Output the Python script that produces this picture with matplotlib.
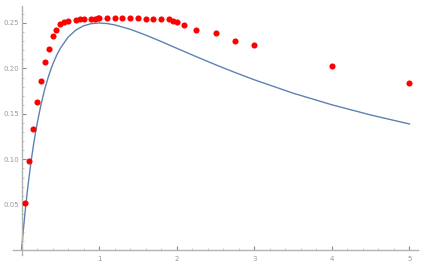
import matplotlib
matplotlib.use("Agg")
import matplotlib.pyplot as plt
from matplotlib.ticker import MultipleLocator, FixedLocator, FixedFormatter

# Scatter data
pts_x = [0.045, 0.10, 0.15, 0.20, 0.25, 0.30, 0.35, 0.40, 0.45, 0.50, 0.55, 0.60,
         0.70, 0.75, 0.80, 0.90, 0.95, 0.98, 1.00, 1.10, 1.20, 1.30, 1.40, 1.50,
         1.60, 1.70, 1.80, 1.90, 1.95, 2.00, 2.10, 2.25, 2.50, 2.75, 3.00, 4.00, 5.00]
pts_y = [0.0524, 0.098, 0.133, 0.163, 0.1865, 0.2066, 0.2213, 0.2352, 0.2426, 0.2485,
         0.2514, 0.2525, 0.2533, 0.2544, 0.2544, 0.2544, 0.2547, 0.2550, 0.2555, 0.2555,
         0.2555, 0.2555, 0.2555, 0.2555, 0.2547, 0.2544, 0.2544, 0.2544, 0.2518, 0.2507,
         0.2478, 0.2426, 0.2385, 0.2306, 0.2253, 0.2022, 0.1842]

# Curve samples
curve_x = [0, 0.01, 0.02, 0.03, 0.05, 0.075, 0.10, 0.125, 0.15, 0.175, 0.20, 0.25, 0.30,
           0.35, 0.40, 0.45, 0.50, 0.60, 0.70, 0.80, 0.90, 1.00, 1.10, 1.20, 1.40,
           1.60, 1.80, 2.00, 2.25, 2.50, 2.75, 3.00, 3.50, 4.00, 4.50, 5.00]
curve_y = [0, 0.0098, 0.0192, 0.0283, 0.0454, 0.0649, 0.0826, 0.0988, 0.1134, 0.1267,
           0.1389, 0.1600, 0.1775, 0.1920, 0.2041, 0.2140, 0.2222, 0.2344, 0.2422,
           0.2469, 0.2493, 0.2500, 0.2494, 0.2479, 0.2431, 0.2367, 0.2296, 0.2222,
           0.2130, 0.2041, 0.1956, 0.1875, 0.1728, 0.1600, 0.1488, 0.1389]

x_ticks = [1, 2, 3, 4, 5]
y_ticks = [0.05, 0.10, 0.15, 0.20, 0.25]
y_labels = ["0.05", "0.10", "0.15", "0.20", "0.25"]

W, H = 424, 266
fig = plt.figure(figsize=(W / 100, H / 100), dpi=100)
left, right, top, bottom = 13, 418, 5.7, 255
ax = fig.add_axes([left / W, 1 - bottom / H, (right - left) / W, (bottom - top) / H])

ax.plot(curve_x, curve_y, color="#5E81B5", lw=1.0, zorder=2)
ax.plot(pts_x, pts_y, "o", color="#ff0000", ms=4.4, mec="none", zorder=3)

ax.set_xlim(-0.11, 5.11)
ax.set_ylim(-0.0052, 0.269)

for s in ["top", "right"]:
    ax.spines[s].set_visible(False)
ax.spines["left"].set_position(("data", 0))
ax.spines["bottom"].set_position(("data", 0))
axis_col = "#b3b3b3"
for s in ["left", "bottom"]:
    ax.spines[s].set_color(axis_col)
    ax.spines[s].set_linewidth(1.0)

ax.xaxis.set_major_locator(FixedLocator(x_ticks))
ax.xaxis.set_minor_locator(MultipleLocator(0.2))
ax.yaxis.set_major_locator(FixedLocator(y_ticks))
ax.yaxis.set_major_formatter(FixedFormatter(y_labels))
ax.yaxis.set_minor_locator(MultipleLocator(0.01))

ax.tick_params(which="major", direction="in", length=3, width=0.8, color="#888888",
               labelsize=5, labelcolor="#999999")
ax.tick_params(which="minor", direction="in", length=1.5, width=0.5, color="#aaaaaa")
ax.tick_params(axis="x", which="major", pad=4)
ax.tick_params(axis="y", which="major", pad=1.5)

fig.savefig("out.png", dpi=100)
